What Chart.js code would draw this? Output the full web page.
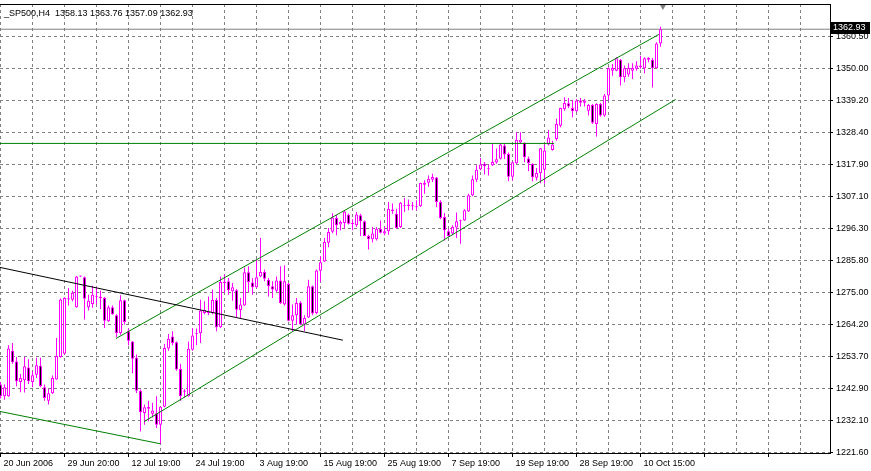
<!DOCTYPE html>
<html>
<head>
<meta charset="utf-8">
<title>_SP500,H4</title>
<script src="https://cdn.jsdelivr.net/npm/chart.js@4.4.1/dist/chart.umd.min.js"></script>
<style>
  html, body { margin: 0; padding: 0; background: #ffffff; }
  canvas { display: block; }
</style>
</head>
<body>
<canvas id="priceChart" width="871" height="471"></canvas>
<script>

// H4 bars (bar 0 = 20 Jun 2006)
var opens = [1244.3,1240.4,1240.4,1255.6,1252.0,1245.1,1245.7,1250.0,1245.1,1247.6,
  1250.6,1243.4,1238.9,1241.4,1246.0,1253.5,1254.6,1272.7,1272.6,1270.1,
  1280.4,1280.1,1270.1,1271.2,1273.6,1273.2,1273.2,1265.4,1270.1,1267.4,
  1261.5,1272.4,1262.1,1258.7,1253.2,1242.2,1234.8,1236.8,1234.5,1234.7,
  1230.9,1236.9,1256.3,1260.3,1258.4,1249.5,1241.9,1240.4,1255.9,1261.1,
  1261.4,1268.2,1268.2,1268.2,1272.5,1263.4,1278.2,1278.8,1275.4,1275.8,
  1269.2,1270.7,1281.8,1278.4,1276.8,1280.4,1281.9,1279.3,1277.1,1275.6,
  1279.0,1271.0,1277.9,1265.6,1267.4,1271.7,1264.3,1266.7,1277.1,1268.2,
  1282.3,1285.4,1291.6,1295.3,1299.9,1297.7,1298.2,1301.0,1297.9,1297.5,
  1300.8,1298.8,1293.9,1292.8,1292.8,1296.3,1294.7,1295.5,1302.2,1301.3,
  1296.9,1303.8,1303.9,1303.8,1303.5,1303.8,1311.0,1311.7,1312.7,1313.4,
  1305.2,1300.2,1295.5,1294.7,1296.7,1298.8,1299.1,1302.1,1307.5,1312.7,
  1316.2,1318.0,1316.2,1317.5,1318.4,1319.7,1324.1,1321.3,1313.7,1318.2,
  1325.1,1325.0,1319.8,1317.9,1313.3,1314.8,1316.0,1324.4,1322.6,1326.3,
  1330.7,1336.3,1338.2,1336.6,1335.5,1339.1,1338.4,1335.7,1337.6,1331.3,
  1338.0,1334.1,1340.8,1349.1,1349.1,1352.7,1346.9,1347.8,1349.1,1349.7,
  1350.2,1349.9,1353.3,1352.7,1349.9,1358.13];

var highs = [1245.1,1244.3,1257.4,1258.2,1253.5,1247.8,1253.5,1252.7,1248.7,1253.2,
  1253.2,1244.3,1242.8,1247.3,1259.8,1273.0,1273.4,1276.5,1275.6,1280.5,
  1280.6,1280.4,1274.3,1277.3,1276.8,1275.6,1273.5,1270.7,1270.7,1267.8,
  1274.1,1272.6,1262.9,1258.8,1254.3,1242.6,1237.6,1238.9,1238.2,1240.4,
  1237.0,1257.8,1261.2,1262.1,1258.7,1251.2,1242.7,1258.7,1263.2,1263.0,
  1272.6,1272.1,1273.7,1276.0,1273.2,1280.4,1281.0,1279.9,1278.2,1276.2,
  1273.2,1283.4,1283.8,1279.9,1286.0,1293.2,1282.7,1279.9,1278.8,1280.4,
  1283.8,1284.1,1278.2,1271.0,1273.2,1272.1,1267.4,1279.3,1277.4,1282.7,
  1287.1,1293.2,1296.6,1301.5,1300.9,1299.1,1302.5,1301.3,1299.5,1301.9,
  1301.3,1299.1,1294.3,1296.9,1296.9,1299.1,1296.9,1305.2,1304.7,1303.0,
  1305.2,1306.6,1306.1,1305.2,1305.8,1311.7,1312.5,1314.1,1314.7,1313.6,
  1305.8,1301.6,1296.3,1297.5,1301.7,1299.3,1302.8,1308.0,1314.1,1317.5,
  1319.9,1318.6,1317.7,1324.7,1323.1,1324.7,1324.6,1321.8,1318.8,1328.5,
  1328.5,1325.2,1320.4,1318.2,1316.6,1323.3,1324.4,1329.3,1325.7,1333.0,
  1336.7,1340.2,1340.0,1339.3,1339.6,1340.0,1339.6,1338.0,1338.0,1338.2,
  1338.3,1341.3,1350.2,1351.3,1353.6,1353.0,1350.8,1351.6,1351.6,1352.2,
  1354.1,1353.6,1353.6,1353.3,1358.6,1363.76];

var lows = [1239.6,1239.2,1240.2,1251.2,1243.7,1241.7,1241.6,1244.5,1243.4,1246.5,
  1243.4,1238.9,1237.6,1241.1,1245.9,1253.2,1254.3,1270.7,1272.1,1269.9,
  1280.2,1266.0,1269.0,1269.9,1271.0,1269.5,1263.2,1265.2,1267.6,1260.1,
  1260.9,1264.3,1257.4,1248.1,1241.5,1228.7,1230.9,1232.0,1233.3,1229.8,
  1224.4,1236.7,1255.6,1257.4,1248.9,1238.9,1240.0,1240.2,1255.6,1257.4,
  1258.2,1267.8,1267.4,1267.8,1262.1,1263.2,1274.9,1274.3,1272.3,1266.5,
  1266.3,1270.6,1275.1,1274.3,1276.5,1280.1,1278.8,1273.7,1273.2,1275.2,
  1271.2,1270.7,1265.4,1262.1,1264.3,1264.1,1262.1,1266.5,1267.4,1267.8,
  1278.5,1285.2,1290.1,1294.8,1294.1,1295.8,1296.3,1297.7,1295.8,1296.9,
  1293.9,1293.8,1289.4,1291.7,1292.4,1294.7,1294.1,1294.3,1301.3,1296.3,
  1296.6,1301.9,1302.5,1302.5,1302.5,1303.6,1308.0,1310.3,1311.9,1303.6,
  1299.5,1292.4,1293.6,1294.1,1293.2,1291.3,1299.0,1301.9,1307.2,1311.9,
  1315.8,1314.4,1314.1,1317.3,1318.0,1319.4,1319.6,1312.2,1312.4,1317.9,
  1324.6,1318.5,1315.5,1312.2,1312.4,1311.5,1311.3,1324.1,1322.4,1325.7,
  1330.2,1335.7,1336.6,1333.5,1335.2,1337.1,1337.1,1334.1,1331.3,1327.1,
  1333.7,1333.7,1339.1,1347.4,1348.9,1344.1,1345.2,1347.1,1346.3,1349.1,
  1349.7,1348.2,1351.9,1343.5,1349.8,1357.09];

var closes = [1240.4,1243.4,1256.3,1251.7,1245.4,1246.5,1250.4,1245.4,1247.4,1250.7,
  1243.8,1239.8,1241.4,1246.5,1253.8,1272.7,1273.2,1273.1,1274.9,1280.4,
  1280.5,1272.9,1272.3,1274.3,1273.9,1273.3,1265.6,1270.1,1267.8,1261.5,
  1272.4,1265.2,1258.9,1252.9,1242.2,1235.0,1236.7,1236.2,1235.6,1230.9,
  1236.9,1256.5,1259.6,1258.2,1249.3,1240.4,1242.3,1256.2,1260.7,1261.4,
  1269.0,1269.3,1268.5,1272.5,1263.4,1278.5,1278.6,1275.8,1276.8,1269.3,
  1271.0,1281.8,1278.5,1276.8,1280.1,1281.9,1279.6,1277.1,1276.0,1279.0,
  1271.5,1278.8,1265.6,1267.4,1271.5,1264.3,1266.5,1277.1,1268.0,1282.4,
  1285.1,1291.9,1295.2,1300.1,1297.5,1298.6,1302.1,1298.0,1298.2,1301.1,
  1298.8,1293.9,1292.8,1294.7,1296.3,1295.0,1295.5,1303.0,1302.7,1296.6,
  1305.0,1304.1,1304.4,1304.1,1303.8,1311.6,1311.7,1313.0,1313.6,1305.2,
  1299.9,1295.8,1293.9,1296.9,1298.8,1299.1,1302.5,1307.5,1312.8,1316.0,
  1317.8,1317.2,1316.4,1318.6,1319.5,1324.4,1321.1,1313.7,1318.5,1326.0,
  1326.0,1320.2,1318.3,1313.5,1314.9,1323.2,1322.4,1326.8,1324.4,1331.3,
  1336.6,1338.3,1337.1,1335.5,1339.1,1338.4,1339.1,1337.6,1331.7,1338.0,
  1334.1,1340.8,1349.9,1350.0,1353.2,1346.9,1349.9,1350.0,1350.0,1350.8,
  1350.8,1353.2,1352.7,1349.9,1358.2,1362.93];

// axis labels
var timeLabels = ["20 Jun 2006","29 Jun 20:00","12 Jul 19:00","24 Jul 19:00","3 Aug 19:00","15 Aug 19:00",
  "25 Aug 19:00","7 Sep 19:00","19 Sep 19:00","28 Sep 19:00","10 Oct 15:00"];
var priceLabels = ["1221.60","1232.10","1242.90","1253.70","1264.20","1275.00","1285.80",
  "1296.30","1307.10","1317.90","1328.40","1339.20","1350.00","1360.50"];

// drawn objects (bar index, price)
var blackLineBars = [-0.125, 85.6];
var blackLinePrices = [1283.4, 1259.1];
var lowerOldBars = [-0.125, 40.0];
var lowerOldPrices = [1235.3, 1224.5];
var channelTopBars = [28.9, 164.6];
var channelTopPrices = [1259.7, 1361.2];
var channelLowBars = [35.9, 168.8];
var channelLowPrices = [1231.9, 1339.5];
var levelBars = [-0.125, 138.4];
var levelPrices = [1324.8, 1324.8];
var shiftMarkBars = [165.6];
var shiftMarkPrices = [1370.7];

var X_MIN = -0.125, X_MAX = 207.375;
var Y_MIN = 1221.433, Y_MAX = 1371.351;
var BARS_PER_GRID = 8;

var FONT = { family: "'Liberation Sans', Arial, sans-serif", size: 9 };
var MAGENTA = '#ff00ff';
var TREND_GREEN = '#008000';

function points(bars, prices){

  return bars.map(function(b, k){ return { x: b, y: prices[k] }; });
}

function lineSet(bars, prices, color, order){

  return {
    type: 'line',
    data: points(bars, prices),
    borderColor: color,
    borderWidth: 1,
    pointRadius: 0,
    tension: 0,
    order: order
  };
}

function buildDatasets(){

  var wicks = [], bodies = [], fills = [];
  for (var i = 0; i < opens.length; i++){
    wicks.push({ x: i, y: [lows[i], highs[i]] });
    bodies.push({ x: i, y: [opens[i], closes[i]] });
    fills.push(closes[i] >= opens[i] ? '#ffffff' : '#000000');
  }

  var last = closes[closes.length - 1];

  return [
    lineSet(blackLineBars, blackLinePrices, '#000000', 0),
    lineSet(lowerOldBars, lowerOldPrices, TREND_GREEN, 0),
    lineSet(channelTopBars, channelTopPrices, TREND_GREEN, 0),
    lineSet(channelLowBars, channelLowPrices, TREND_GREEN, 0),
    lineSet(levelBars, levelPrices, TREND_GREEN, 0),
    {
      type: 'line',
      data: points(shiftMarkBars, shiftMarkPrices),
      showLine: false,
      pointStyle: 'triangle',
      rotation: 180,
      pointRadius: 4,
      pointBackgroundColor: '#808080',
      pointBorderColor: '#808080',
      pointBorderWidth: 0,
      clip: false,
      order: 0
    },
    {
      type: 'bar',
      data: bodies,
      backgroundColor: fills,
      borderColor: MAGENTA,
      borderWidth: 1,
      borderSkipped: false,
      barThickness: 3,
      minBarLength: 1,
      inflateAmount: 0,
      grouped: false,
      order: 1
    },
    {
      type: 'bar',
      data: wicks,
      backgroundColor: MAGENTA,
      borderWidth: 0,
      barThickness: 1,
      inflateAmount: 0,
      grouped: false,
      order: 2
    },
    // bid line
    lineSet([X_MIN, X_MAX], [last, last], '#808080', 3)
  ];
}

// header text, frame and the current price box
var overlayPlugin = {
  id: 'overlay',
  afterDraw: function(chart){

    var ctx = chart.ctx, area = chart.chartArea, yScale = chart.scales.y;
    var n = closes.length - 1;
    var font = FONT.size + 'px ' + FONT.family;

    ctx.save();
    ctx.strokeStyle = '#000000';
    ctx.lineWidth = 1;
    ctx.beginPath();
    ctx.moveTo(area.left, area.top + 0.5);
    ctx.lineTo(area.right + 1, area.top + 0.5);
    ctx.stroke();

    ctx.font = font;
    ctx.textAlign = 'left';
    ctx.textBaseline = 'middle';
    ctx.fillStyle = '#000000';
    var header = '_SP500,H4  ' + [opens[n], highs[n], lows[n], closes[n]].map(function(v){ return v.toFixed(2); }).join(' ');
    ctx.fillText(header, area.left + 4, area.top + 9.5);

    var py = Math.round(yScale.getPixelForValue(closes[n]));
    ctx.fillRect(area.right + 1, py - 7, 39, 12);
    ctx.fillStyle = '#ffffff';
    ctx.fillText(closes[n].toFixed(2), area.right + 3, py - 1);
    ctx.restore();
  }
};

function drawChart(){

  var ctx = document.getElementById('priceChart').getContext('2d');
  var chart = new Chart(ctx, {

    type: 'bar',
    data: { datasets: buildDatasets() },
    plugins: [overlayPlugin],

    options: {
      responsive: false,
      animation: false,
      devicePixelRatio: 1,
      layout: { autoPadding: false, padding: { top: 4, left: 0, right: 0, bottom: 0 } },
      plugins: {
        legend: { display: false },
        tooltip: { enabled: false }
      },
      scales: {
        x: {
          type: 'linear',
          min: X_MIN,
          max: X_MAX,
          offset: false,
          grid: {
            offset: false,
            color: '#808080',
            tickColor: function(c){ return c.index % 2 ? 'rgba(0,0,0,0)' : '#000000'; },
            tickBorderDash: [],
            tickLength: 4
          },
          border: { display: true, color: '#000000', width: 1, dash: [3, 3] },
          ticks: {
            autoSkip: false,
            maxRotation: 0,
            minRotation: 0,
            align: 'start',
            labelOffset: 3,
            padding: 1,
            color: '#000000',
            font: FONT,
            callback: function(value, index){ return index % 2 ? '' : (timeLabels[index / 2] || ''); }
          },
          afterBuildTicks: function(scale){
            var t = [];
            for (var v = 0; v <= scale.max; v += BARS_PER_GRID) t.push({ value: v });
            scale.ticks = t;
          },
          afterFit: function(scale){
            scale.height = 18;
            scale.paddingLeft = 0;
            scale.paddingRight = 0;
          }
        },
        y: {
          type: 'linear',
          position: 'right',
          min: Y_MIN,
          max: Y_MAX,
          grid: {
            color: '#808080',
            tickColor: '#000000',
            tickBorderDash: [],
            tickLength: 3
          },
          border: { display: true, color: '#000000', width: 1, dash: [3, 3] },
          ticks: {
            padding: 3,
            color: '#000000',
            font: FONT,
            callback: function(value, index){ return priceLabels[index]; }
          },
          afterBuildTicks: function(scale){
            var first = parseFloat(priceLabels[0]);
            var step = (parseFloat(priceLabels[priceLabels.length - 1]) - first) / (priceLabels.length - 1);
            scale.ticks = priceLabels.map(function(l, k){ return { value: first + k * step }; });
          },
          afterFit: function(scale){
            scale.width = 41;
            scale.paddingTop = 0;
            scale.paddingBottom = 0;
          }
        }
      }
    }
  });
}

drawChart();

</script>
</body>
</html>
